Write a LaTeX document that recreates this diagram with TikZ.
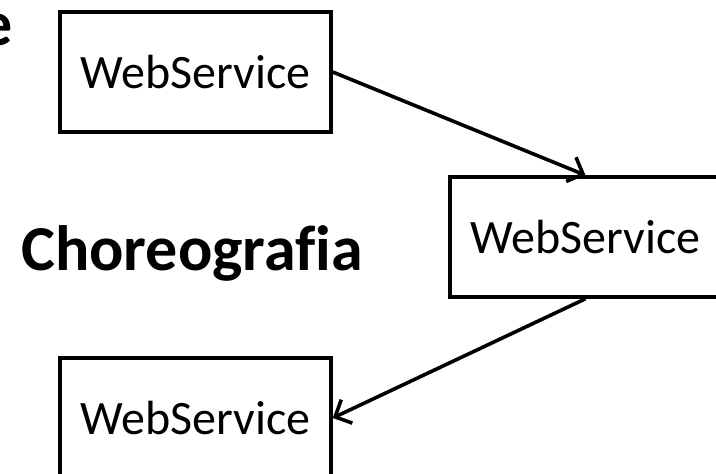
\documentclass[tikz,border=0pt]{standalone}
\usepackage{fontspec}
\setmainfont[Ligatures=NoCommon]{Carlito}
\usetikzlibrary{arrows.meta}
\begin{document}
\begin{tikzpicture}[x=1pt,y=-1pt,
  wsbox/.style={draw,line width=3.5pt,minimum width=271pt,minimum height=120pt,inner sep=0pt,font=\fontsize{48}{50}\selectfont},
  titletext/.style={font=\bfseries\fontsize{64}{66}\selectfont,inner sep=0pt},
  flow/.style={line width=3.6pt,-{Straight Barb[length=13pt,width=26pt,line width=3.6pt]}}]
\useasboundingbox (0,0) rectangle (716,474);
\clip (0,0) rectangle (716,474);
\node[titletext,anchor=base east] (t0) at (13,45) {e};
\node[titletext,anchor=base west] (title) at (21,270) {Choreografia};
\node[wsbox] (b1) at (195.5,72) {WebService};
\node[wsbox] (b2) at (585.5,237) {WebService};
\node[wsbox] (b3) at (195.5,418) {WebService};
\draw[flow] (b1.east) -- (b2.north);
\draw[flow] (b2.south) -- (b3.east);
\end{tikzpicture}
\end{document}
